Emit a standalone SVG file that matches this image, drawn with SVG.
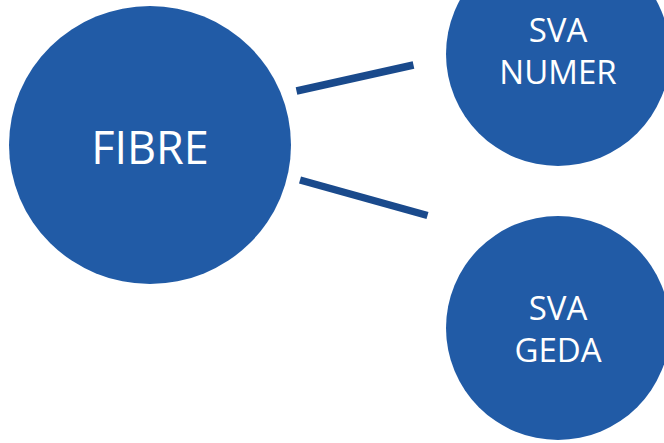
<svg xmlns="http://www.w3.org/2000/svg" width="664" height="443" viewBox="0 0 664 443">
<style>
.node{fill:#215BA6;}
.lbl{fill:#ffffff;font-family:"Open Sans","Noto Sans",sans-serif;text-anchor:middle;}
.conn{stroke:#1A4A8C;stroke-width:7.5;fill:none;}
</style>
<rect width="664" height="443" fill="#ffffff"/>
<g id="connectors">
<line class="conn" x1="296.5" y1="91" x2="413.5" y2="65"/>
<line class="conn" x1="300" y1="180" x2="427.5" y2="215.5"/>
</g>
<g id="fibre">
<ellipse class="node" cx="150" cy="145" rx="141" ry="139"/>
<text class="lbl" x="150" y="164" font-size="45">FIBRE</text>
</g>
<g id="sva-numer">
<circle class="node" cx="558" cy="54" r="112"/>
<text class="lbl" x="558" y="42" font-size="33">SVA</text>
<text class="lbl" x="558" y="84" font-size="33">NUMER</text>
</g>
<g id="sva-geda">
<circle class="node" cx="558" cy="328" r="112"/>
<text class="lbl" x="558" y="320" font-size="33">SVA</text>
<text class="lbl" x="558" y="362" font-size="33">GEDA</text>
</g>
</svg>
